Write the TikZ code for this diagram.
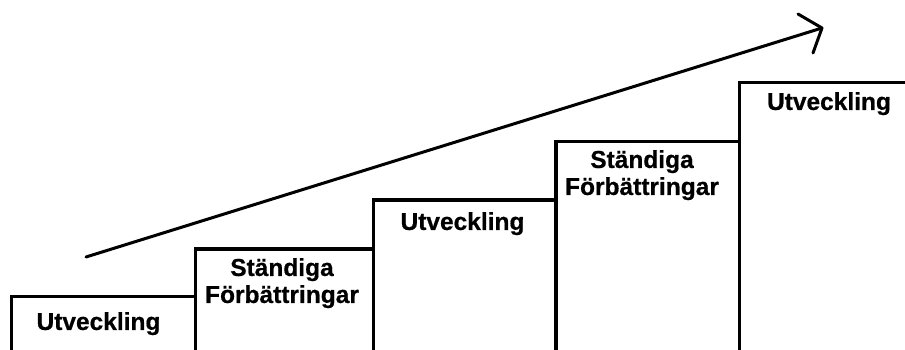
\documentclass[tikz,border=0pt]{standalone}
\usepackage{fontspec}
\setmainfont{Liberation Sans}[BoldFeatures={FakeBold=0.6}]
\begin{document}
\begin{tikzpicture}[x=1pt,y=1pt,
  stepbox/.style={draw=black, line width=3.2pt, rectangle, inner sep=0pt, anchor=north west},
  steplabel/.style={font=\fontsize{24.5}{27}\selectfont\bfseries, align=center, inner sep=0pt, anchor=north, text=black},
  trend/.style={draw=black, line width=3pt, line cap=round, line join=round}]
\useasboundingbox (0,0) rectangle (905,350);
\clip (0,0) rectangle (905,350);
\fill[white] (0,0) rectangle (905,350);
% steps
\node[stepbox, minimum width=183.5, minimum height=75] (b1) at (10,55) {};
\node[stepbox, minimum width=178, minimum height=122.5] (b2) at (193.5,102.5) {};
\node[stepbox, minimum width=182.8, minimum height=171.5] (b3) at (371.5,151.5) {};
\node[stepbox, minimum width=183.4, minimum height=230] (b4) at (554.3,210) {};
\node[stepbox, minimum width=190, minimum height=289] (b5) at (737.7,269) {};
% labels
\node[steplabel] (t1) at (98.5,38) {Utveckling};
\node[steplabel] (t2) at (282,92) {Ständiga\\Förbättringar};
\node[steplabel] (t3) at (462.5,138) {Utveckling};
\node[steplabel] (t4) at (642,200) {Ständiga\\Förbättringar};
\node[steplabel] (t5) at (829,258) {Utveckling};
% trend arrow
\coordinate (a0) at (86,93);
\coordinate (tip) at (822,322);
\coordinate (w1) at (798,336);
\coordinate (w2) at (813,297);
\draw[trend] (a0) -- (tip);
\draw[trend] (w1) -- (tip) -- (w2);
\end{tikzpicture}
\end{document}
